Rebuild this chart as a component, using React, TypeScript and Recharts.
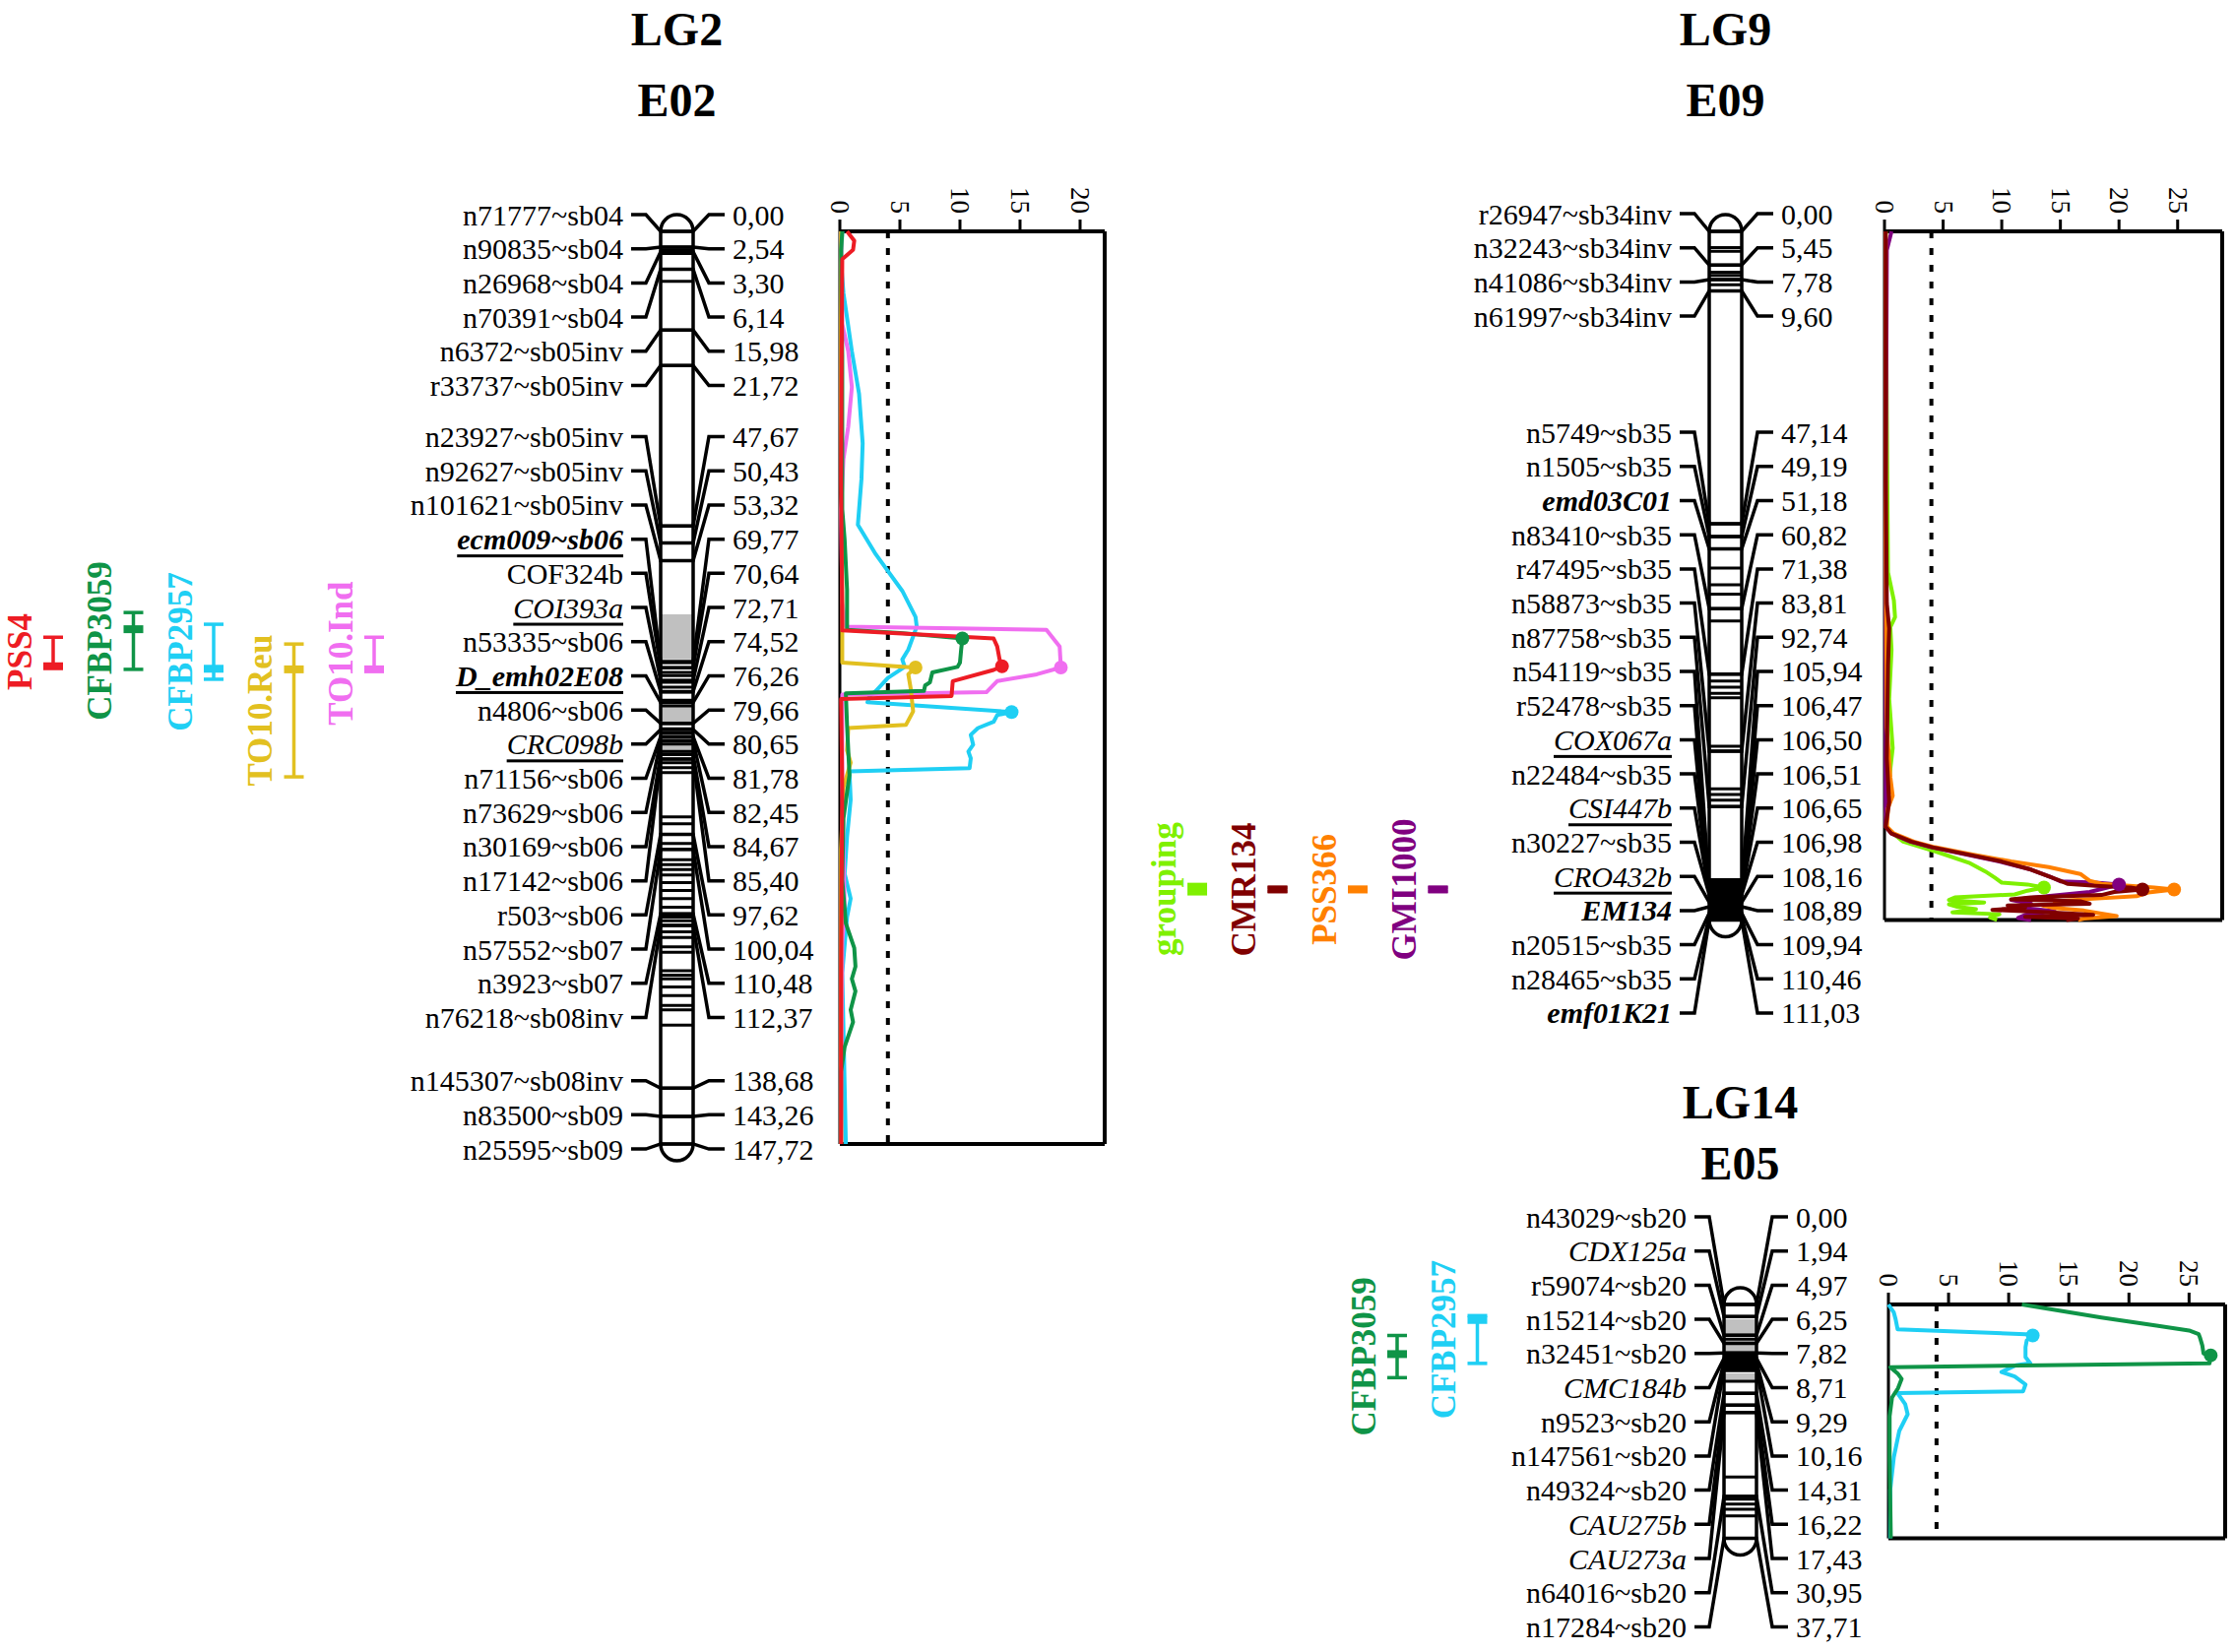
import React from 'react';
import { ScatterChart, Scatter, XAxis, YAxis, ReferenceLine, ReferenceArea } from 'recharts';

const FONT = '"Liberation Serif", "Times New Roman", Times, serif';
const W = 2270;
const H = 1678;

type Pt = [number, number]; // [cM, LOD]

// ---------------- LG2 / E02 ----------------
const LG2_NAMES = [
  'n71777~sb04', 'n90835~sb04', 'n26968~sb04', 'n70391~sb04', 'n6372~sb05inv', 'r33737~sb05inv',
  'n23927~sb05inv', 'n92627~sb05inv', 'n101621~sb05inv', 'ecm009~sb06', 'COF324b', 'COI393a',
  'n53335~sb06', 'D_emh02E08', 'n4806~sb06', 'CRC098b', 'n71156~sb06', 'n73629~sb06', 'n30169~sb06',
  'n17142~sb06', 'r503~sb06', 'n57552~sb07', 'n3923~sb07', 'n76218~sb08inv', 'n145307~sb08inv',
  'n83500~sb09', 'n25595~sb09',
];
const LG2_CM = [
  0, 2.54, 3.3, 6.14, 15.98, 21.72, 47.67, 50.43, 53.32, 69.77, 70.64, 72.71, 74.52, 76.26, 79.66,
  80.65, 81.78, 82.45, 84.67, 85.4, 97.62, 100.04, 110.48, 112.37, 138.68, 143.26, 147.72,
];
// b = bold, i = italic, u = underline
const LG2_FMT = ['', '', '', '', '', '', '', '', '', 'biu', '', 'iu', '', 'biu', '', 'iu', '', '', '', '', '', '', '', '', '', '', ''];
// unlabelled marker bars drawn on the linkage group
const LG2_EXTRA = [
  3.0, 3.6, 8.1, 69.6, 71.4, 71.9, 73.0, 73.8, 74.6, 75.9, 76.8, 80.5, 81.2, 83.0, 84.2, 86.0, 86.8,
  87.6, 94.8, 95.9, 99.1, 101.7, 102.5, 103.3, 104.2, 105.4, 106.7, 108.0, 109.4, 111.0, 111.6, 113.4,
  114.3, 115.8, 116.7, 119.7, 120.4, 121.0, 122.3, 123.7, 125.3, 126.0, 128.5,
];
const LG2_GRAY = [[62.0, 69.3], [76.8, 80.0], [82.6, 84.1]];
const LG2_BLACK: number[][] = [];

const LG2_QTL = ['PSS4', 'CFBP3059', 'CFBP2957', 'TO10.Reu', 'TO10.Ind'];
const LG2_QTL_LO = [65.7, 61.7, 63.6, 66.8, 65.7];
const LG2_QTL_HI = [70.4, 70.9, 72.5, 88.3, 70.9];
const LG2_QTL_PEAK = [70.4, 64.4, 70.8, 70.9, 70.9];
const LG2_COLORS = ['#ed1c24', '#0f9447', '#1fcff4', '#e2c020', '#f06ef0'];

const LG2_PSS4: Pt[] = [
  [0, 0.6], [1.5, 1.2], [3.0, 1.1], [4.5, 0.2], [20, 0.15], [40, 0.1], [64.6, 0.2], [65.9, 12.8],
  [67.2, 13.1], [69.3, 13.3], [70.4, 13.5], [71.0, 12.8], [72.8, 9.4], [75.2, 9.3], [75.7, 0.1],
  [90, 0.2], [120, 0.1], [147.72, 0.1],
];
const LG2_CFBP3059: Pt[] = [
  [0, 0.2], [3, 0.1], [20, 0.2], [45, 0.2], [50, 0.4], [58, 0.6], [64.5, 0.6], [65.0, 5.0], [65.9, 10.2],
  [67.7, 10.1], [69.8, 10.0], [70.5, 9.8], [71.4, 7.7], [73.0, 7.5], [73.5, 7.1], [74.4, 7.0], [74.8, 0.5],
  [80, 0.6], [88, 0.8], [95, 0.3], [105, 0.2], [112, 0.5], [116, 1.2], [119, 1.3], [121, 1.0], [123, 1.3],
  [126, 0.9], [128, 1.1], [132, 0.4], [136, 0.1], [147.72, 0.1],
];
const LG2_CFBP2957: Pt[] = [
  [0, 0.2], [5, 0.1], [10, 0.3], [14, 0.6], [19.4, 1.0], [26.3, 1.6], [34.3, 1.9], [40.1, 1.8], [47.5, 1.5],
  [52.3, 3.0], [58.2, 5.2], [62.4, 6.3], [64.0, 6.4], [67.7, 5.7], [69.3, 5.2], [70.5, 5.4], [72.3, 4.0],
  [74.4, 3.0], [75.2, 2.5], [76.2, 2.3], [77.8, 14.3], [78.3, 13.1], [79.4, 12.8], [80.4, 11.5],
  [81.5, 10.9], [83.1, 11.1], [84.2, 10.7], [85.3, 10.9], [86.9, 10.8], [87.4, 0.8], [92, 0.9], [98, 0.6],
  [104, 0.4], [108, 0.9], [111, 0.6], [120, 0.2], [147.72, 0.5],
];
const LG2_TO10REU: Pt[] = [
  [0, 0.1], [30, 0.1], [60, 0.2], [69.8, 0.2], [70.5, 5.5], [70.6, 6.3], [71.7, 5.7], [74.0, 5.9],
  [77.7, 6.1], [79.9, 5.5], [80.4, 0.7], [84, 0.6], [86, 0.9], [90, 0.3], [100, 0.1], [147.72, 0.1],
];
const LG2_TO10IND: Pt[] = [
  [0, 0.1], [15, 0.2], [19.4, 0.7], [25.2, 1.0], [31.6, 0.7], [36.9, 0.3], [45, 0.1], [60, 0.2],
  [64.0, 0.5], [64.5, 17.2], [67.2, 18.3], [70.6, 18.4], [71.7, 16.4], [72.8, 13.1], [74.4, 12.3],
  [74.6, 12.2], [75.0, 0.2], [90, 0.2], [110, 0.4], [115, 0.2], [147.72, 0.1],
];

// ---------------- LG9 / E09 ----------------
const LG9_NAMES = [
  'r26947~sb34inv', 'n32243~sb34inv', 'n41086~sb34inv', 'n61997~sb34inv', 'n5749~sb35', 'n1505~sb35',
  'emd03C01', 'n83410~sb35', 'r47495~sb35', 'n58873~sb35', 'n87758~sb35', 'n54119~sb35', 'r52478~sb35',
  'COX067a', 'n22484~sb35', 'CSI447b', 'n30227~sb35', 'CRO432b', 'EM134', 'n20515~sb35', 'n28465~sb35',
  'emf01K21',
];
const LG9_CM = [
  0, 5.45, 7.78, 9.6, 47.14, 49.19, 51.18, 60.82, 71.38, 83.81, 92.74, 105.94, 106.47, 106.5, 106.51,
  106.65, 106.98, 108.16, 108.89, 109.94, 110.46, 111.03,
];
const LG9_FMT = ['', '', '', '', '', '', 'bi', '', '', '', '', '', '', 'iu', '', 'iu', '', 'iu', 'bi', '', '', 'bi'];
const LG9_EXTRA = [2.6, 3.2, 6.6, 7.1, 8.6, 54.3, 57.0, 58.5, 62.8, 72.5, 73.5, 74.5, 75.2, 83.0, 89.9, 90.8, 91.7];
const LG9_GRAY: number[][] = [];
const LG9_BLACK = [[104.3, 111.03]];

const LG9_QTL = ['grouping', 'CMR134', 'PSS366', 'GMI1000'];
const LG9_QTL_LO = [105.3, 105.8, 105.8, 105.8];
const LG9_QTL_HI = [106.8, 106.4, 106.4, 106.4];
const LG9_QTL_PEAK = [106.0, 106.1, 106.1, 106.1];
const LG9_COLORS = ['#7ff000', '#800000', '#ff8000', '#800080'];

const LG9_GROUPING: Pt[] = [
  [0, 0.1], [30, 0.2], [55, 0.3], [59.5, 0.8], [62.2, 0.9], [63.8, 0.5], [67.5, 0.6], [75.4, 0.4],
  [83.3, 0.7], [90, 0.3], [94, 0.1], [96, 0.2], [97.0, 0.7], [98.4, 1.6], [100.0, 4.4], [101.8, 7.2],
  [103.2, 8.6], [104.2, 9.4], [105.0, 10.0], [105.3, 12.2], [105.8, 13.6], [106.3, 12.2], [106.9, 11.1],
  [107.4, 6.0], [107.8, 5.5], [108.2, 8.5], [108.5, 5.5], [108.9, 6.2], [109.3, 7.8], [109.8, 5.8],
  [110.1, 9.8], [110.6, 9.0], [111.03, 9.6],
];
const LG9_CMR134: Pt[] = [
  [0, 0.1], [40, 0.1], [60, 0.2], [64, 0.4], [70, 0.3], [85, 0.2], [92, 0.4], [96, 0.1], [97.1, 0.6],
  [98.4, 2.3], [99.3, 4.1], [100.5, 7.2], [101.6, 10.0], [102.9, 12.5], [104.0, 14.0], [104.7, 15.0],
  [105.2, 15.6], [105.5, 18.0], [105.8, 21.0], [106.1, 22.0], [106.5, 19.6], [107.0, 18.5], [107.4, 12.5],
  [107.7, 10.8], [108.0, 16.7], [108.4, 17.5], [108.7, 10.5], [109.0, 12.0], [109.4, 9.2], [109.8, 14.2],
  [110.2, 17.8], [110.5, 12.0], [110.8, 16.5], [111.03, 15.5],
];
const LG9_PSS366: Pt[] = [
  [0, 0.1], [50, 0.1], [80, 0.2], [88, 0.5], [91, 0.7], [93, 0.3], [96, 0.2], [97.1, 0.8], [98.4, 2.5],
  [99.3, 4.3], [100.5, 7.6], [101.6, 10.8], [102.5, 14.0], [103.6, 16.7], [104.7, 17.5], [105.2, 18.5],
  [105.8, 23.0], [106.1, 24.7], [106.6, 22.5], [107.2, 21.5], [107.6, 17.8], [108.0, 14.5], [108.4, 15.5],
  [108.7, 13.5], [109.1, 14.5], [109.5, 17.0], [110.0, 18.5], [110.4, 19.8], [110.8, 17.0], [111.03, 16.5],
];
const LG9_GMI1000: Pt[] = [
  [0, 0.6], [3, 0.2], [50, 0.1], [96, 0.1], [97.1, 0.6], [98.4, 2.2], [99.3, 4.0], [100.5, 7.0],
  [101.6, 9.8], [102.9, 12.5], [104.2, 14.3], [104.8, 15.0], [105.0, 18.0], [105.3, 20.0], [105.8, 19.0],
  [106.5, 17.5], [107.2, 13.9], [107.8, 10.8], [108.4, 12.5], [109.0, 11.4], [109.6, 14.5], [110.2, 12.0],
  [110.7, 11.4], [111.03, 12.5],
];

// ---------------- LG14 / E05 ----------------
const LG14_NAMES = [
  'n43029~sb20', 'CDX125a', 'r59074~sb20', 'n15214~sb20', 'n32451~sb20', 'CMC184b', 'n9523~sb20',
  'n147561~sb20', 'n49324~sb20', 'CAU275b', 'CAU273a', 'n64016~sb20', 'n17284~sb20',
];
const LG14_CM = [0, 1.94, 4.97, 6.25, 7.82, 8.71, 9.29, 10.16, 14.31, 16.22, 17.43, 30.95, 37.71];
const LG14_FMT = ['', 'i', '', '', '', 'i', '', '', '', 'i', 'i', '', ''];
const LG14_EXTRA = [5.6, 12.4, 27.8, 31.4, 32.2, 33.0, 34.1];
const LG14_GRAY = [[2.4, 4.8], [5.8, 7.7], [11.1, 12.2]];
const LG14_BLACK = [[7.7, 10.9]];

const LG14_QTL = ['CFBP3059', 'CFBP2957'];
const LG14_QTL_LO = [5.0, 1.8];
const LG14_QTL_HI = [11.8, 9.5];
const LG14_QTL_PEAK = [8.0, 2.5];
const LG14_COLORS = ['#0f9447', '#1fcff4'];

const LG14_CFBP3059: Pt[] = [
  [0, 11.1], [2.1, 17.7], [3.4, 22.3], [4.2, 25.0], [4.8, 25.8], [5.3, 25.9], [6.6, 26.1], [7.9, 26.2],
  [8.2, 26.8], [9.5, 26.7], [10.1, 0.15], [11.2, 0.8], [12.0, 1.1], [13.5, 0.8], [15.0, 0.3], [18, 0.1],
  [25, 0.1], [37.71, 0.2],
];
const LG14_CFBP2957: Pt[] = [
  [0, 0], [1.3, 0.45], [2.4, 0.6], [4.0, 0.76], [4.8, 11.4], [5.0, 12.0], [5.8, 11.5], [6.9, 11.4],
  [8.5, 11.4], [9.5, 11.8], [9.8, 10.6], [10.9, 9.4], [11.6, 10.5], [12.9, 11.4], [14.0, 11.2],
  [14.3, 0.76], [16.1, 1.4], [17.7, 1.6], [20.4, 0.9], [24.6, 0.45], [29.9, 0.15], [37.71, 0.15],
];

const LOD_THRESHOLD = 4;

// ---------------- layout ----------------
const CHROM_W = 33;
const CAP_PX = 17;
const ROW_PX = 34.7;

interface MapCfg {
  names: string[]; cm: number[]; fmt: string[]; extra: number[]; gray: number[][]; black: number[][];
  qtl: string[]; lo: number[]; hi: number[]; peak: number[]; colors: string[];
  y0: number; ppc: number; rowY0: number; breaks: Record<number, number>; chromL: number; qtlX0: number;
}

const LG2: MapCfg = {
  names: LG2_NAMES, cm: LG2_CM, fmt: LG2_FMT, extra: LG2_EXTRA, gray: LG2_GRAY, black: LG2_BLACK,
  qtl: LG2_QTL, lo: LG2_QTL_LO, hi: LG2_QTL_HI, peak: LG2_QTL_PEAK, colors: LG2_COLORS,
  y0: 235, ppc: 6.275, rowY0: 218, breaks: { 6: 0.5, 24: 0.85 }, chromL: 671, qtlX0: 54,
};
const LG9: MapCfg = {
  names: LG9_NAMES, cm: LG9_CM, fmt: LG9_FMT, extra: LG9_EXTRA, gray: LG9_GRAY, black: LG9_BLACK,
  qtl: LG9_QTL, lo: LG9_QTL_LO, hi: LG9_QTL_HI, peak: LG9_QTL_PEAK, colors: LG9_COLORS,
  y0: 235, ppc: 6.3, rowY0: 217, breaks: { 4: 2.4 }, chromL: 1736, qtlX0: 1216,
};
const LG14: MapCfg = {
  names: LG14_NAMES, cm: LG14_CM, fmt: LG14_FMT, extra: LG14_EXTRA, gray: LG14_GRAY, black: LG14_BLACK,
  qtl: LG14_QTL, lo: LG14_QTL_LO, hi: LG14_QTL_HI, peak: LG14_QTL_PEAK, colors: LG14_COLORS,
  y0: 1325, ppc: 6.3, rowY0: 1236, breaks: {}, chromL: 1751, qtlX0: 1419,
};
const QTL_STEP = 81.5;

const fmtPos = (v: number) => v.toFixed(2).replace('.', ',');
const Nothing = () => <g />;

const rowIndex = (n: number, breaks: Record<number, number>) => {
  const out: number[] = [];
  let r = 0;
  for (let i = 0; i < n; i++) {
    if (breaks[i]) r += breaks[i];
    out.push(r);
    r += 1;
  }
  return out;
};

const textShape = (anchor: 'start' | 'end') => (p: any) => {
  const f: string = p.payload.fmt || '';
  return (
    <text
      x={p.cx}
      y={p.cy}
      textAnchor={anchor}
      dominantBaseline="central"
      fontFamily={FONT}
      fontSize={30}
      fontWeight={f.includes('b') ? 'bold' : 'normal'}
      fontStyle={f.includes('i') ? 'italic' : 'normal'}
      textDecoration={f.includes('u') ? 'underline' : undefined}
      fill="#000"
    >
      {p.payload.text}
    </text>
  );
};
const LeftText = textShape('end');
const RightText = textShape('start');

const QtlText = (p: any) => (
  <text
    x={p.cx}
    y={p.cy}
    transform={`rotate(-90 ${p.cx} ${p.cy})`}
    textAnchor="middle"
    fontFamily={FONT}
    fontSize={35}
    fontWeight="bold"
    fill={p.payload.color}
  >
    {p.payload.text}
  </text>
);

const chromFill = (p: any) => (
  <rect x={p.x} y={p.y} width={p.width} height={p.height} rx={p.width / 2} ry={CAP_PX} fill="#fff" />
);
const chromOutline = (p: any) => (
  <rect x={p.x} y={p.y} width={p.width} height={p.height} rx={p.width / 2} ry={CAP_PX} fill="none" stroke="#000" strokeWidth={3.5} />
);

const MapChart = ({ c }: { c: MapCfg }) => {
  const cmAt = (y: number) => (y - c.y0) / c.ppc;
  const L = c.chromL;
  const R = c.chromL + CHROM_W;
  const maxCm = Math.max(...c.cm);
  const capCm = CAP_PX / c.ppc;
  const rows = rowIndex(c.names.length, c.breaks);
  const rowCm = rows.map((r) => cmAt(c.rowY0 + ROW_PX * r));
  const labels = c.names.map((n, i) => ({ x: L - 38, y: rowCm[i], text: n, fmt: c.fmt[i] }));
  const positions = c.cm.map((v, i) => ({ x: R + 40, y: rowCm[i], text: fmtPos(v), fmt: '' }));
  const bars = [...c.cm, ...c.extra];
  const qtlLabels = c.qtl.map((q, i) => ({
    x: c.qtlX0 + QTL_STEP * i - 22, y: (c.lo[i] + c.hi[i]) / 2, text: q, color: c.colors[i],
  }));
  const seg = (x1: number, y1: number, x2: number, y2: number) => [{ x: x1, y: y1 }, { x: x2, y: y2 }];

  return (
    <ScatterChart width={W} height={H} margin={{ top: 0, right: 0, bottom: 0, left: 0 }}>
      <XAxis type="number" dataKey="x" domain={[0, W]} hide />
      <YAxis type="number" dataKey="y" domain={[cmAt(0), cmAt(H)]} reversed hide />
      <ReferenceArea x1={L} x2={R} y1={-capCm} y2={maxCm + capCm} shape={chromFill} />
      {c.gray.map(([a, b], i) => (
        <ReferenceArea key={`g${i}`} x1={L} x2={R} y1={a} y2={b} fill="#c0c0c0" fillOpacity={1} stroke="none" />
      ))}
      {c.black.map(([a, b], i) => (
        <ReferenceArea key={`k${i}`} x1={L} x2={R} y1={a} y2={b} fill="#000" fillOpacity={1} stroke="none" />
      ))}
      {bars.map((v, i) => (
        <ReferenceLine key={`b${i}`} segment={seg(L, v, R, v)} stroke="#000" strokeWidth={3} />
      ))}
      <ReferenceArea x1={L} x2={R} y1={-capCm} y2={maxCm + capCm} shape={chromOutline} />
      {c.cm.map((v, i) => (
        <Scatter
          key={`c${i}`}
          data={[
            { x: L - 30, y: rowCm[i] }, { x: L - 15, y: rowCm[i] }, { x: L, y: v },
            { x: R, y: v }, { x: R + 16, y: rowCm[i] }, { x: R + 32, y: rowCm[i] },
          ]}
          line={{ stroke: '#000', strokeWidth: 3.5 }}
          shape={Nothing}
          isAnimationActive={false}
        />
      ))}
      <Scatter data={labels} shape={LeftText} isAnimationActive={false} />
      <Scatter data={positions} shape={RightText} isAnimationActive={false} />
      {c.qtl.map((q, i) => {
        const x = c.qtlX0 + QTL_STEP * i;
        const col = c.colors[i];
        return (
          <React.Fragment key={q}>
            <ReferenceLine segment={seg(x, c.lo[i], x, c.hi[i])} stroke={col} strokeWidth={3.5} />
            <ReferenceLine segment={seg(x - 10, c.lo[i], x + 10, c.lo[i])} stroke={col} strokeWidth={3.5} />
            <ReferenceLine segment={seg(x - 10, c.hi[i], x + 10, c.hi[i])} stroke={col} strokeWidth={3.5} />
            <ReferenceLine segment={seg(x - 10, c.peak[i], x + 10, c.peak[i])} stroke={col} strokeWidth={8} />
          </React.Fragment>
        );
      })}
      <Scatter data={qtlLabels} shape={QtlText} isAnimationActive={false} />
    </ScatterChart>
  );
};

const RotTick = (props: any) => {
  const { x, y, payload } = props;
  return (
    <text
      x={x}
      y={y}
      transform={`rotate(90 ${x} ${y})`}
      textAnchor="end"
      dominantBaseline="central"
      fontFamily={FONT}
      fontSize={27}
      fill="#000"
    >
      {payload.value}
    </text>
  );
};

interface Series { pts: Pt[]; color: string }

const peakOf = (pts: Pt[]) => {
  let best = pts[0];
  for (const p of pts) if (p[1] > best[1]) best = p;
  return [{ cm: best[0], lod: best[1] }];
};

const LodChart = ({ left, top, plotW, plotH, maxLod, maxCm, ticks, series }: {
  left: number; top: number; plotW: number; plotH: number; maxLod: number; maxCm: number; ticks: number[]; series: Series[];
}) => {
  const ml = 20, mr = 10, mb = 20, axisH = 85;
  return (
    <div style={{ position: 'absolute', left: left - ml, top: top - axisH }}>
      <ScatterChart width={plotW + ml + mr} height={plotH + axisH + mb} margin={{ top: 0, left: ml, right: mr, bottom: mb }}>
        <XAxis
          type="number"
          dataKey="lod"
          orientation="top"
          domain={[0, maxLod]}
          ticks={ticks}
          interval={0}
          height={axisH}
          tickSize={12}
          tickMargin={6}
          tick={<RotTick />}
          axisLine={{ stroke: '#000', strokeWidth: 4 }}
          tickLine={{ stroke: '#000', strokeWidth: 3 }}
        />
        <YAxis type="number" dataKey="cm" domain={[0, maxCm]} reversed hide />
        <ReferenceLine x={0} stroke="#000" strokeWidth={3} />
        <ReferenceLine x={maxLod} stroke="#000" strokeWidth={4} />
        <ReferenceLine y={maxCm} stroke="#000" strokeWidth={4} />
        <ReferenceLine x={LOD_THRESHOLD} stroke="#000" strokeWidth={4} strokeDasharray="7 10" />
        {series.map((s, i) => (
          <Scatter
            key={`l${i}`}
            data={s.pts.map(([cm, lod]) => ({ cm, lod }))}
            line={{ stroke: s.color, strokeWidth: 4, strokeLinejoin: 'round' }}
            shape={Nothing}
            isAnimationActive={false}
          />
        ))}
        {series.map((s, i) => (
          <Scatter
            key={`d${i}`}
            data={peakOf(s.pts)}
            shape={(p: any) => <circle cx={p.cx} cy={p.cy} r={7} fill={s.color} />}
            isAnimationActive={false}
          />
        ))}
      </ScatterChart>
    </div>
  );
};

const Title = ({ cx, top, text }: { cx: number; top: number; text: string }) => (
  <div
    style={{
      position: 'absolute', left: cx - 100, width: 200, top, textAlign: 'center',
      fontSize: 48, lineHeight: '56px', fontWeight: 'bold', fontFamily: FONT, color: '#000',
    }}
  >
    {text}
  </div>
);

export default function App() {
  return (
    <div style={{ position: 'relative', width: W, height: H, background: '#fff', overflow: 'hidden' }}>
      <style>{'body{margin:0}'}</style>
      <div style={{ position: 'absolute', left: 0, top: 0 }}><MapChart c={LG2} /></div>
      <div style={{ position: 'absolute', left: 0, top: 0 }}><MapChart c={LG9} /></div>
      <div style={{ position: 'absolute', left: 0, top: 0 }}><MapChart c={LG14} /></div>

      <LodChart
        left={853} top={235} plotW={269} plotH={147.72 * 6.275} maxLod={22.05} maxCm={147.72}
        ticks={[0, 5, 10, 15, 20]}
        series={[
          { pts: LG2_CFBP2957, color: LG2_COLORS[2] },
          { pts: LG2_TO10IND, color: LG2_COLORS[4] },
          { pts: LG2_TO10REU, color: LG2_COLORS[3] },
          { pts: LG2_CFBP3059, color: LG2_COLORS[1] },
          { pts: LG2_PSS4, color: LG2_COLORS[0] },
        ]}
      />
      <LodChart
        left={1914} top={235} plotW={343} plotH={111.03 * 6.3} maxLod={28.8} maxCm={111.03}
        ticks={[0, 5, 10, 15, 20, 25]}
        series={[
          { pts: LG9_GROUPING, color: LG9_COLORS[0] },
          { pts: LG9_GMI1000, color: LG9_COLORS[3] },
          { pts: LG9_PSS366, color: LG9_COLORS[2] },
          { pts: LG9_CMR134, color: LG9_COLORS[1] },
        ]}
      />
      <LodChart
        left={1918} top={1325} plotW={342} plotH={37.71 * 6.3} maxLod={28.0} maxCm={37.71}
        ticks={[0, 5, 10, 15, 20, 25]}
        series={[
          { pts: LG14_CFBP2957, color: LG14_COLORS[1] },
          { pts: LG14_CFBP3059, color: LG14_COLORS[0] },
        ]}
      />

      <Title cx={687.5} top={2} text="LG2" />
      <Title cx={687.5} top={74} text="E02" />
      <Title cx={1752.5} top={2} text="LG9" />
      <Title cx={1752.5} top={74} text="E09" />
      <Title cx={1767.5} top={1092} text="LG14" />
      <Title cx={1767.5} top={1154} text="E05" />
    </div>
  );
}
